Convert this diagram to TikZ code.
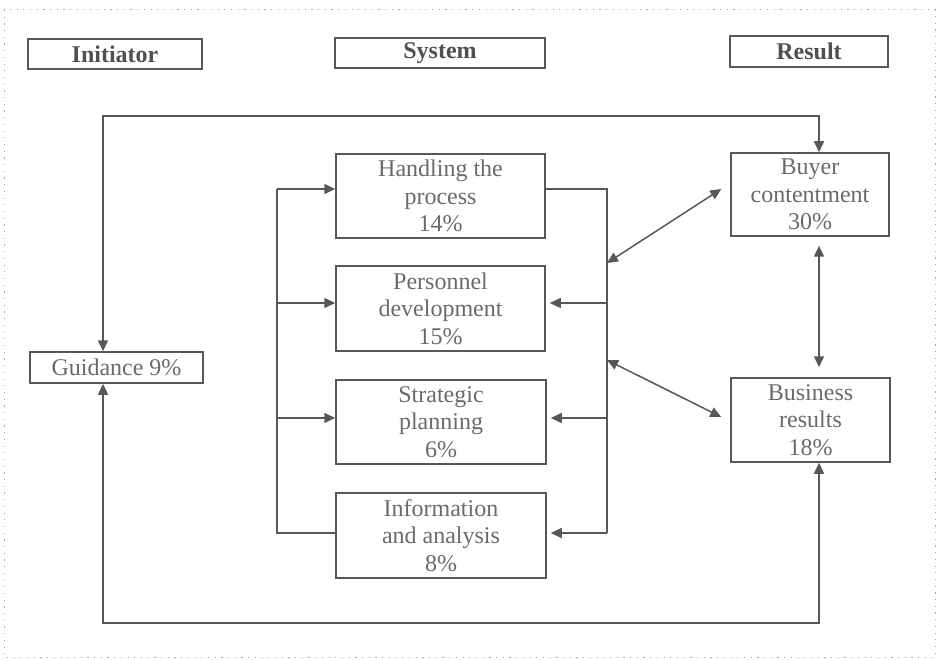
\documentclass[tikz,border=0pt]{standalone}
\usepackage{fontspec}
\setmainfont{Liberation Serif}
\usetikzlibrary{arrows.meta}
\definecolor{ln}{HTML}{585858}
\definecolor{tx}{HTML}{6A6A6A}
\definecolor{hd}{HTML}{505050}
\begin{document}
\begin{tikzpicture}[x=1pt,y=-1pt,
  box/.style={draw=ln,line width=1.5pt,inner sep=0pt,align=center,text=tx,
    font=\fontsize{24}{27.5}\selectfont},
  head/.style={draw=ln,line width=1.5pt,inner sep=0pt,text=hd,
    font=\fontsize{24}{27.5}\selectfont\bfseries},
  line/.style={draw=ln,line width=1.5pt},
  arr/.style={line,-{Triangle[length=11pt,width=10pt]}},
  darr/.style={line,{Triangle[length=11pt,width=10pt]}-{Triangle[length=11pt,width=10pt]}}
]
\useasboundingbox (0,0) rectangle (937,660);
\draw[color=gray!70,line width=1pt,dash pattern=on 1.2pt off 5.5pt] (4,10) rectangle (935,657);

% headers
\node[head,minimum width=174pt,minimum height=30pt] (init) at (115,54) {Initiator};
\node[head,minimum width=210pt,minimum height=30pt] (sys) at (440,53) {System};
\node[head,minimum width=158pt,minimum height=31pt] (res) at (809,51.5) {Result};

% system boxes
\node[box,minimum width=209pt,minimum height=84pt] (hand) at (440.5,196) {Handling the\\process\\14\%};
\node[box,minimum width=209pt,minimum height=85pt] (pers) at (440.5,308.5) {Personnel\\development\\15\%};
\node[box,minimum width=210pt,minimum height=84pt] (strat) at (441,422) {Strategic\\planning\\6\%};
\node[box,minimum width=210pt,minimum height=85pt] (info) at (441,535.5) {Information\\and analysis\\8\%};

% result boxes
\node[box,minimum width=158pt,minimum height=83pt] (buyer) at (810,194.5) {Buyer\\contentment\\30\%};
\node[box,minimum width=159pt,minimum height=84pt] (busi) at (810.5,420) {Business\\results\\18\%};

% initiator box
\node[box,minimum width=173pt,minimum height=31pt] (guid) at (116.5,367.5) {Guidance 9\%};

% helper coordinates
\coordinate (gx) at (103,0);
\coordinate (bx) at (819,0);
\coordinate (lb) at (277,0);
\coordinate (rb) at (607,0);
\coordinate (topy) at (0,116);
\coordinate (boty) at (0,623);
\coordinate (r1) at (0,189);
\coordinate (r2) at (0,303);
\coordinate (r3) at (0,418);
\coordinate (r4) at (0,533);
\coordinate (d1) at (607,263);
\coordinate (d2) at (607,360);

% outer loops
\draw[darr] (gx |- guid.north) |- (bx |- topy) -- (bx |- buyer.north);
\draw[darr] (gx |- guid.south) |- (bx |- boty) -- (bx |- busi.south);

% left bus
\draw[line] (info.west |- r4) -| (lb |- r1);
\draw[arr] (lb |- r1) -- (hand.west |- r1);
\draw[arr] (lb |- r2) -- (pers.west |- r2);
\draw[arr] (lb |- r3) -- (strat.west |- r3);

% right bus
\draw[line] (hand.east |- r1) -| (rb |- r4);
\draw[arr,shorten >=4pt] (rb |- r2) -- (pers.east |- r2);
\draw[arr,shorten >=4pt] (rb |- r3) -- (strat.east |- r3);
\draw[arr,shorten >=4pt] (rb |- r4) -- (info.east |- r4);

% double arrows to results
\draw[darr] (d1) -- ([xshift=-9pt,yshift=5.5pt]buyer.west);
\draw[darr] (d2) -- ([xshift=-9pt,yshift=3pt]busi.west);
\draw[darr,shorten <=9pt,shorten >=10pt] (bx |- buyer.south) -- (bx |- busi.north);
\end{tikzpicture}
\end{document}
